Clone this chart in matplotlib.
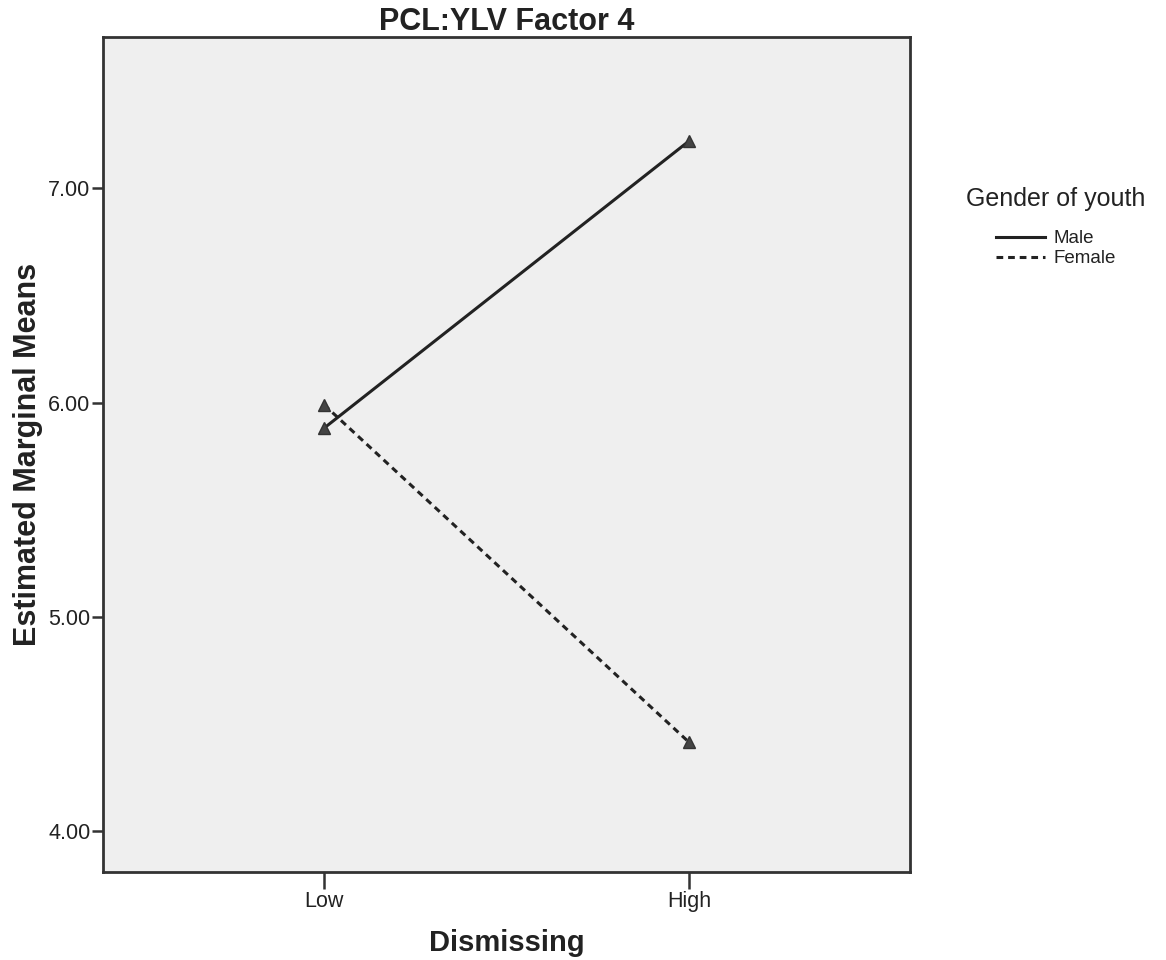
import matplotlib
matplotlib.use("Agg")
import matplotlib.pyplot as plt

plt.rcParams['font.family'] = ['Liberation Sans', 'DejaVu Sans']

categories = ["Low", "High"]
male = [5.88, 7.22]
female = [5.99, 4.415]
series_names = ["Male", "Female"]
yticks = [4.0, 5.0, 6.0, 7.0]
ytick_labels = ["4.00", "5.00", "6.00", "7.00"]

fig = plt.figure(figsize=(11.66, 9.6), dpi=100)
ax = fig.add_axes([103/1166, 1-872/960, (910-103)/1166, (872-37)/960])
ax.set_facecolor('#efefef')

x = list(range(len(categories)))
ax.plot(x, male, color='#222222', lw=2.2, ls='-', marker='^', ms=9,
        markerfacecolor='#444444', markeredgecolor='#333333', label=series_names[0])
ax.plot(x, female, color='#222222', lw=2.2, ls=(0, (2.2, 1.6)), marker='^', ms=9,
        markerfacecolor='#444444', markeredgecolor='#333333', label=series_names[1])

ax.set_xlim(-0.605, 1.605)
ax.set_ylim(3.81, 7.705)
ax.set_xticks(x)
ax.set_xticklabels(categories)
ax.set_yticks(yticks)
ax.set_yticklabels(ytick_labels)

for s in ax.spines.values():
    s.set_linewidth(2)
    s.set_color('#333333')
ax.tick_params(axis='y', length=8, width=1.8, color='#333333', labelsize=15.5, pad=1, labelcolor='#222222')
ax.tick_params(axis='x', length=12, width=1.8, color='#333333', labelsize=15.5, pad=2, labelcolor='#222222')

ax.set_title("PCL:YLV Factor 4", fontsize=22, fontweight='bold', color='#222222', pad=4)
ax.set_xlabel("Dismissing", fontsize=21, fontweight='bold', color='#222222', labelpad=12)
ax.set_ylabel("Estimated Marginal Means", fontsize=22, fontweight='bold', color='#222222', labelpad=4)

leg = ax.legend(title="Gender of youth", loc='upper center', bbox_to_anchor=(1056/1166, 1-170/960),
                bbox_transform=fig.transFigure, frameon=False, fontsize=13.5,
                title_fontsize=18, handlelength=2.6, handletextpad=0.5, labelspacing=0.15)
leg._legend_box.sep = 14
for h in leg.legend_handles:
    h.set_marker('')
for t in leg.get_texts():
    t.set_color('#222222')
leg.get_title().set_color('#222222')

fig.savefig("out.png", dpi=100, facecolor='white')
